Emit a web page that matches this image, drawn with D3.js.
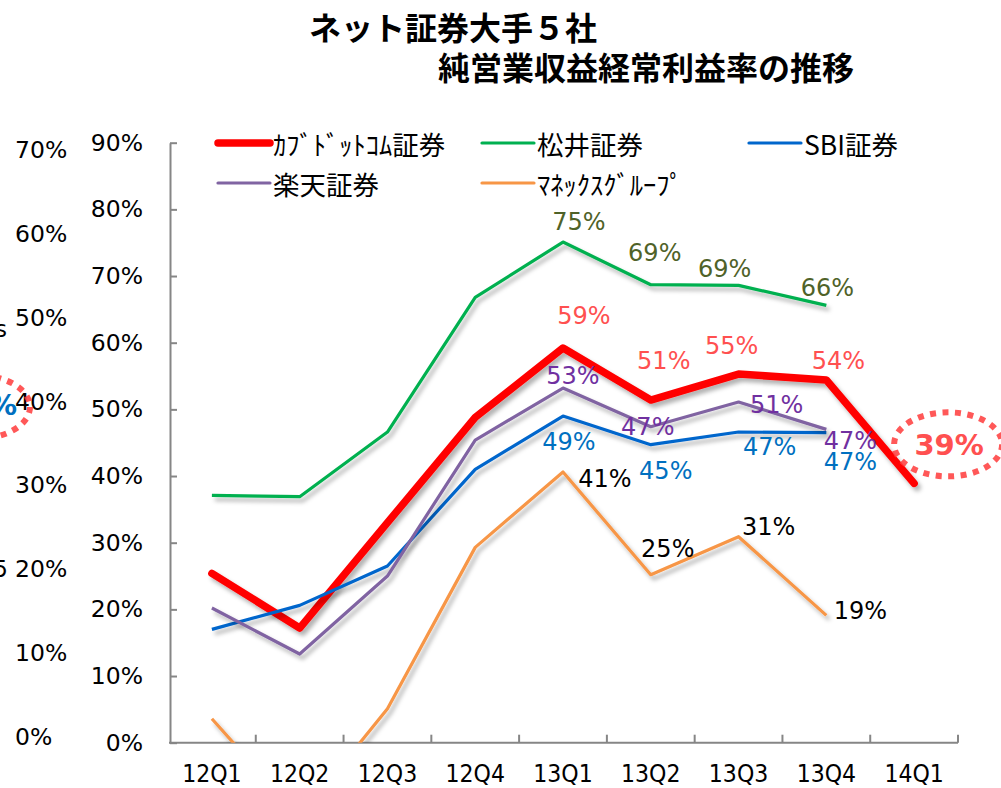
<!DOCTYPE html>
<html><head><meta charset="utf-8">
<script src="https://cdn.jsdelivr.net/npm/d3@7"></script>
<style>
html,body{margin:0;padding:0;background:#fff;}
svg{display:block;}
</style></head>
<body>
<svg id="chart" width="1001" height="788"></svg>
<script>
// ---------- data ----------
const categories = ["12Q1","12Q2","12Q3","12Q4","13Q1","13Q2","13Q3","13Q4","14Q1"];
const seriesNames = ["ｶﾌﾞﾄﾞｯﾄｺﾑ証券","松井証券","SBI証券","楽天証券","ﾏﾈｯｸｽｸﾞﾙｰﾌﾟ"];
const kabucom = [25.4, 17.2, 33.0, 48.8, 59.2, 51.4, 55.3, 54.4, 38.9];
const matsui  = [37.1, 36.9, 46.6, 66.8, 75.1, 68.7, 68.6, 65.6, null];
const sbi     = [17.0, 20.6, 26.5, 41.0, 49.0, 44.7, 46.6, 46.5, null];
const rakuten = [20.2, 13.3, 25.0, 45.4, 53.2, 47.4, 51.1, 47.0, null];
const monex   = [3.6, -11.2, 5.1, 29.3, 40.6, 25.2, 30.9, 19.1, null];
const yTicks = [0,10,20,30,40,50,60,70,80,90];
const leftFragmentTicks = [0,10,20,30,40,50,60,70];
const titleLines = ["ネット証券大手５社","純営業収益経常利益率の推移"];
const labelFrom = 4; // data labels for 13Q1..13Q4

// label offsets (pixels, relative to point) for 13Q1..13Q4
const kabuLabelOff    = [[21,-32],[13,-39],[-7,-28],[12,-19]];
const matsuiLabelOff  = [[16,-20],[4,-32],[-14,-16],[1,-17]];
const sbiLabelOff     = [[6,26],[15,26],[31,15],[24,29]];
const rakutenLabelOff = [[10,-12],[-3,0],[38,3],[24,12]];
const monexLabelOff   = [[42,7],[17,-26],[30,-10],[34,-4]];

const lineColors  = ["#FF0000","#00B050","#0066CC","#8064A2","#F79646"];
const labelColors = ["#FF5050","#4F6228","#0070C0","#7030A0","#000000"];
const lineWidths  = [7.5,3.2,3.2,3.2,3.2];

const allSeries = [kabucom, matsui, sbi, rakuten, monex];
const allOffsets = [kabuLabelOff, matsuiLabelOff, sbiLabelOff, rakutenLabelOff, monexLabelOff];

// ---------- drawing ----------
const svg = d3.select("#chart");
const numFont = "'DejaVu Sans', Verdana, sans-serif";
const jpFont = "'Noto Sans CJK JP', sans-serif";

const defs = svg.append("defs");
defs.append("filter").attr("id","shadow")
  .attr("filterUnits","userSpaceOnUse").attr("x",0).attr("y",0).attr("width",1001).attr("height",788)
  .append("feDropShadow").attr("dx",3).attr("dy",4).attr("stdDeviation",2.2)
  .attr("flood-color","#000").attr("flood-opacity",0.3);

const plotLeft = 168, plotRight = 958, plotTop = 142.7, plotBottom = 742.7;
defs.append("clipPath").attr("id","plotclip").append("rect")
  .attr("x",plotLeft).attr("y",100).attr("width",plotRight-plotLeft+20).attr("height",plotBottom-100);

const x = d3.scaleBand().domain(categories).range([plotLeft, plotRight]).padding(0);
const cx = c => x(c) + x.bandwidth()/2;
const y = d3.scaleLinear().domain([0,90]).range([plotBottom, plotTop]);

// left fragment axis (clipped chart at the left edge)
const yLeft = d3.scaleLinear().domain([0,70]).range([737, 150]);
const leftAx = svg.append("g").attr("transform","translate(15,0)")
  .call(d3.axisRight(yLeft).tickValues(leftFragmentTicks).tickFormat(d=>d+"%").tickSize(0).tickPadding(0));
leftAx.select(".domain").remove();
leftAx.selectAll("text").attr("font-family",numFont).attr("font-size",23.5).attr("fill","#000")
  .attr("text-anchor","start");

// left fragment leftovers
svg.append("ellipse").attr("cx",-24).attr("cy",407).attr("rx",54).attr("ry",32)
  .attr("fill","none").attr("stroke","#FF3B3B").attr("stroke-opacity",0.85)
  .attr("stroke-width",6).attr("stroke-dasharray","6,6.5");
svg.append("text").attr("x",17).attr("y",405).attr("text-anchor","end").attr("dominant-baseline","central")
  .attr("font-family",numFont).attr("font-weight","bold").attr("font-size",28).attr("fill","#0070C0").text("41%");
svg.append("text").attr("x",7).attr("y",329).attr("text-anchor","end").attr("dominant-baseline","central")
  .attr("font-family",numFont).attr("font-size",23).attr("fill","#000").text("s");
svg.append("text").attr("x",8).attr("y",569).attr("text-anchor","end").attr("dominant-baseline","central")
  .attr("font-family",numFont).attr("font-size",23).attr("fill","#000").text("5");

// title
titleLines.forEach((t,i)=>{
  svg.append("text").attr("x", i===0 ? 309 : 438).attr("y", i===0 ? 26 : 66)
    .attr("dominant-baseline","central").attr("font-family",jpFont).attr("font-weight","bold")
    .attr("font-size",32).attr("fill","#000").text(t);
});

// y axis
const yAx = svg.append("g").attr("transform",`translate(170,0)`)
  .call(d3.axisRight(y).tickValues(yTicks).tickFormat(d=>d+"%").tickSize(7).tickSizeOuter(0));
yAx.select(".domain").attr("stroke","#868686").attr("stroke-width",2);
yAx.selectAll(".tick line").attr("stroke","#868686").attr("stroke-width",2);
yAx.selectAll(".tick text").attr("x",-27).attr("text-anchor","end")
  .attr("font-family",numFont).attr("font-size",23.5).attr("fill","#000");

// x axis
const xAx = svg.append("g").attr("transform",`translate(0,${plotBottom})`)
  .call(d3.axisBottom(x).tickSize(0).tickSizeOuter(0).tickPadding(0));
xAx.select(".domain").attr("d",`M169,0H${plotRight}`).attr("stroke","#868686").attr("stroke-width",2);
xAx.selectAll(".tick text").attr("y",31).attr("dy",null).attr("dominant-baseline","central")
  .attr("font-family","'DejaVu Sans Condensed', 'DejaVu Sans', sans-serif")
  .style("font-stretch","condensed").attr("font-size",24.5).attr("fill","#000");
// ticks at band boundaries (inside, upwards)
svg.append("g").selectAll("line").data(categories).join("line")
  .attr("x1",c=>x(c)+x.bandwidth()).attr("x2",c=>x(c)+x.bandwidth())
  .attr("y1",plotBottom).attr("y2",plotBottom-8)
  .attr("stroke","#868686").attr("stroke-width",2);

// lines
const lineGen = d3.line().defined(d=>d.v!==null).x(d=>cx(d.c)).y(d=>y(d.v));
const linesG = svg.append("g").attr("clip-path","url(#plotclip)");
allSeries.forEach((s,i)=>{
  const pts = categories.map((c,j)=>({c, v:s[j]}));
  linesG.append("path").datum(pts).attr("d",lineGen)
    .attr("fill","none").attr("stroke",lineColors[i]).attr("stroke-width",lineWidths[i])
    .attr("stroke-linejoin","round").attr("stroke-linecap", i===0 ? "round" : "butt")
    .attr("filter","url(#shadow)");
});

// data labels
const labelsG = svg.append("g");
allSeries.forEach((s,i)=>{
  allOffsets[i].forEach((off,k)=>{
    const j = labelFrom + k;
    labelsG.append("text")
      .attr("x", cx(categories[j]) + off[0]).attr("y", y(s[j]) + off[1])
      .attr("text-anchor","middle").attr("dominant-baseline","central")
      .attr("font-family",numFont).attr("font-size",24).attr("fill",labelColors[i])
      .text(Math.round(s[j])+"%");
  });
});
// highlighted last value of kabu.com
{
  const j = categories.length-1;
  const lx = cx(categories[j]) + 35, ly = y(kabucom[j]) - 38;
  svg.append("ellipse").attr("cx",lx-1).attr("cy",ly-1).attr("rx",54).attr("ry",32)
    .attr("fill","none").attr("stroke","#FF3B3B").attr("stroke-opacity",0.85)
    .attr("stroke-width",6).attr("stroke-dasharray","6,6.5");
  svg.append("text").attr("x",lx).attr("y",ly).attr("text-anchor","middle").attr("dominant-baseline","central")
    .attr("font-family",numFont).attr("font-weight","bold").attr("font-size",29).attr("fill","#FF5050")
    .text(Math.round(kabucom[j])+"%");
}

// legend
const legendPos = [[218,143],[482,143],[749,143],[218,183],[482,183]];
const legend = svg.append("g");
seriesNames.forEach((n,i)=>{
  const [lx,ly] = legendPos[i];
  legend.append("line").attr("x1",lx).attr("x2",lx+52).attr("y1",ly).attr("y2",ly)
    .attr("stroke",lineColors[i]).attr("stroke-width",lineWidths[i]).attr("stroke-linecap","round");
  legend.append("text").attr("x",lx+55).attr("y",ly).attr("dominant-baseline","central")
    .attr("font-family",jpFont).attr("font-size",26.5).attr("fill","#000").text(n);
});
</script>
</body></html>
